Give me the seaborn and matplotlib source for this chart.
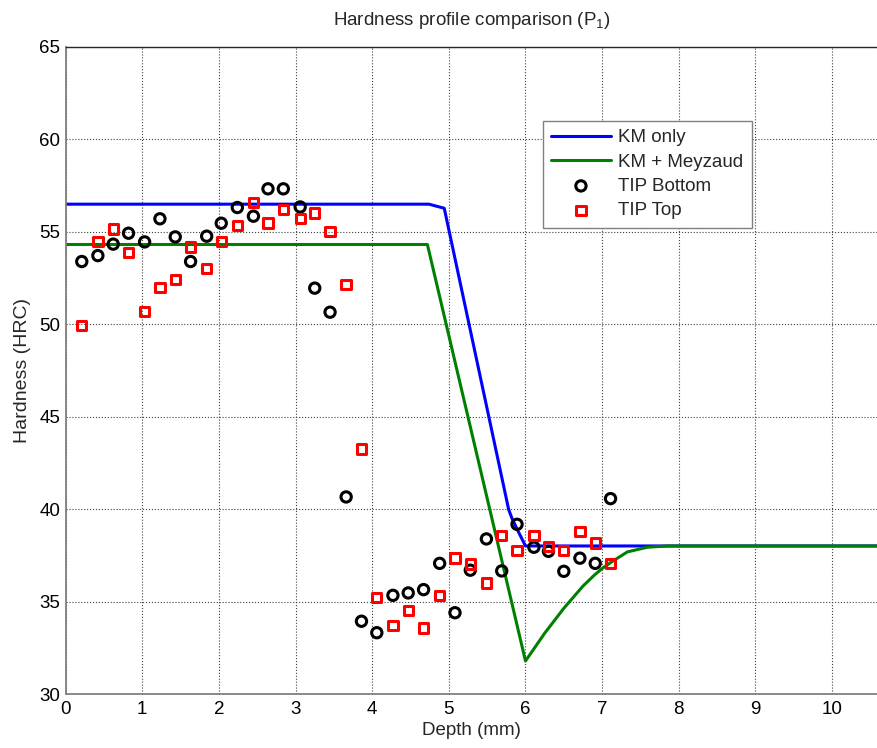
import matplotlib
matplotlib.use("Agg")
import matplotlib.pyplot as plt
import seaborn as sns

# ---- data ----
depth = [0.21, 0.42, 0.62, 0.82, 1.03, 1.23, 1.43, 1.63, 1.84, 2.03, 2.24, 2.45,
         2.64, 2.84, 3.06, 3.25, 3.45, 3.66, 3.86, 4.06, 4.27, 4.47, 4.67, 4.88,
         5.08, 5.28, 5.49, 5.69, 5.89, 6.11, 6.30, 6.50, 6.71, 6.91, 7.11]
tip_bottom = [53.40, 53.72, 54.34, 54.93, 54.46, 55.71, 54.73, 53.40, 54.77, 55.47,
              56.32, 55.85, 57.33, 57.33, 56.35, 51.96, 50.66, 40.67, 33.95, 33.33,
              35.35, 35.48, 35.66, 37.08, 34.41, 36.71, 38.40, 36.67, 39.19, 37.95,
              37.73, 36.65, 37.36, 37.08, 40.58]
tip_top = [49.93, 54.48, 55.15, 53.90, 50.69, 51.99, 52.42, 54.18, 53.04, 54.50,
           55.33, 56.59, 55.49, 56.21, 55.72, 56.03, 55.04, 52.17, 43.27, 35.25,
           33.71, 34.52, 33.59, 35.33, 37.37, 37.05, 36.02, 38.60, 37.79, 38.60,
           37.98, 37.77, 38.79, 38.18, 37.08]

km_x = [0.0, 4.74, 4.94, 5.78, 5.82, 5.90, 6.0, 10.6]
km_y = [56.5, 56.5, 56.28, 40.0, 39.55, 38.85, 38.02, 38.02]

kmm_x = [0.0, 4.72, 6.0, 6.25, 6.5, 6.75, 6.9, 7.0, 7.12, 7.33, 7.59, 7.85, 10.6]
kmm_y = [54.32, 54.32, 31.8, 33.3, 34.65, 35.85, 36.45, 36.8, 37.15, 37.7, 37.95,
         38.02, 38.02]

x_ticks = [0, 1, 2, 3, 4, 5, 6, 7, 8, 9, 10]
y_ticks = [30, 35, 40, 45, 50, 55, 60, 65]

# ---- style ----
sns.set_style("white")
plt.rcParams['font.family'] = ['Liberation Sans', 'DejaVu Sans']
plt.rcParams['mathtext.default'] = 'regular'

FS = 13.5

fig = plt.figure(figsize=(8.78, 7.48), dpi=100)
ax = fig.add_axes([0.0748, 0.0718, 0.9252, 0.8654])

sns.lineplot(x=km_x, y=km_y, sort=False, estimator=None, color='#0000ff',
             linewidth=2.2, ax=ax, label='KM only')
sns.lineplot(x=kmm_x, y=kmm_y, sort=False, estimator=None, color='#008000',
             linewidth=2.2, ax=ax, label='KM + Meyzaud')
sns.scatterplot(x=depth, y=tip_bottom, marker='o', s=55, facecolor='none',
                edgecolor='black', linewidth=2.2, ax=ax, label='TIP Bottom', zorder=3)
sns.scatterplot(x=depth, y=tip_top, marker='s', s=45, facecolor='none',
                edgecolor='#ff0000', linewidth=2.2, ax=ax, label='TIP Top', zorder=3)

ax.set_xlim(0, 10.6)
ax.set_ylim(30, 65)
ax.set_xticks(x_ticks)
ax.set_yticks(y_ticks)
ax.tick_params(direction='in', length=5, width=1, colors='#808080',
               labelcolor='black', labelsize=FS)
ax.tick_params(axis='x', pad=5)
ax.tick_params(axis='y', pad=4)
ax.grid(True, linestyle=':', color='#404040', linewidth=0.8)

for side in ['left', 'bottom']:
    ax.spines[side].set_color('#808080')
    ax.spines[side].set_linewidth(1.3)
ax.spines['top'].set_color('#262626')
ax.spines['top'].set_linewidth(1.0)
ax.spines['right'].set_visible(False)

ax.set_xlabel('Depth (mm)', fontsize=FS, labelpad=3)
ax.set_ylabel('Hardness (HRC)', fontsize=14, labelpad=6)
ax.set_title('Hardness profile comparison (P$_1$)', fontsize=FS, pad=16)

handles, labels = ax.get_legend_handles_labels()
leg = ax.legend(handles, labels, loc='upper left', bbox_to_anchor=(0.587, 0.886),
                borderaxespad=0, fontsize=FS, frameon=True, fancybox=False,
                handlelength=3.2, handletextpad=0.4, labelspacing=0.38,
                borderpad=0.45, edgecolor='#808080', framealpha=1)
leg.get_frame().set_linewidth(1.0)

fig.savefig('out.png', dpi=100)
